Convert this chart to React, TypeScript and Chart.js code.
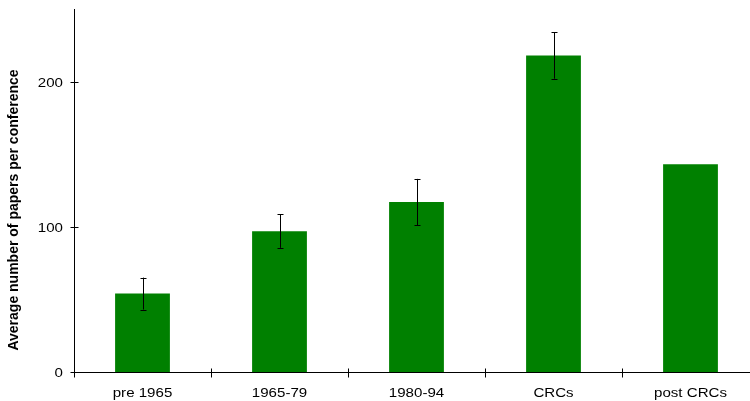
import React, { useEffect, useRef } from "react";
import { Chart, registerables } from "chart.js";

Chart.register(...registerables);

const categories = ["pre 1965", "1965-79", "1980-94", "CRCs", "post CRCs"];
const values = [54, 97, 117, 218, 143];
const errors: (number | null)[] = [11, 11.5, 16, 16, null];
const yTicks = [0, 100, 200];
const yTitle = "Average number of papers per conference";

const FONT = "'Liberation Sans', Arial, sans-serif";
const STRETCH = 1.16;

const axisPlugin = {
  id: "customAxis",
  afterDatasetsDraw(chart: any) {
    const ctx = chart.ctx;
    const x = chart.scales.x;
    const y = chart.scales.y;
    const meta = chart.getDatasetMeta(0);
    ctx.save();
    // error bars
    ctx.strokeStyle = "#000";
    ctx.lineWidth = 1;
    meta.data.forEach((bar: any, i: number) => {
      const e = errors[i];
      if (e == null) return;
      const cx = Math.round(bar.x) + 0.5;
      const top = y.getPixelForValue(values[i] + e);
      const bot = y.getPixelForValue(values[i] - e);
      ctx.beginPath();
      ctx.moveTo(cx, top);
      ctx.lineTo(cx, bot);
      ctx.moveTo(cx - 3, Math.round(top) + 0.5);
      ctx.lineTo(cx + 3, Math.round(top) + 0.5);
      ctx.moveTo(cx - 3, Math.round(bot) + 0.5);
      ctx.lineTo(cx + 3, Math.round(bot) + 0.5);
      ctx.stroke();
    });
    // y tick marks + labels
    const ax = Math.round(x.left) + 0.5;
    ctx.fillStyle = "#000";
    ctx.font = `13px ${FONT}`;
    ctx.textBaseline = "alphabetic";
    yTicks.forEach((v) => {
      const py = Math.round(y.getPixelForValue(v)) + 0.5;
      ctx.beginPath();
      ctx.moveTo(ax - 4, py);
      ctx.lineTo(v === 0 ? ax : ax + 4, py);
      ctx.stroke();
      ctx.save();
      ctx.translate(x.left - 11, py + 4.7);
      ctx.scale(STRETCH, 1);
      ctx.textAlign = "right";
      ctx.fillText(String(v), 0, 0);
      ctx.restore();
    });
    // x tick marks at category boundaries + labels
    const ay = Math.round(y.bottom) + 0.5;
    const step = (x.right - x.left) / categories.length;
    for (let i = 0; i <= categories.length; i++) {
      const px = Math.round(x.left + i * step) + 0.5;
      ctx.beginPath();
      ctx.moveTo(px, ay - 4);
      ctx.lineTo(px, ay + 5);
      ctx.stroke();
    }
    categories.forEach((c, i) => {
      ctx.save();
      ctx.translate(x.getPixelForValue(i), y.bottom + 25);
      ctx.scale(STRETCH, 1);
      ctx.textAlign = "center";
      ctx.fillText(c, 0, 0);
      ctx.restore();
    });
    // y title
    ctx.font = `bold 14px ${FONT}`;
    ctx.textAlign = "center";
    ctx.textBaseline = "middle";
    ctx.translate(14, 210);
    ctx.rotate(-Math.PI / 2);
    ctx.fillText(yTitle, 0, 0);
    ctx.restore();
  },
};

export default function App() {
  const ref = useRef<HTMLCanvasElement>(null);
  useEffect(() => {
    if (!ref.current) return;
    const chart = new Chart(ref.current, {
      type: "bar",
      data: {
        labels: categories,
        datasets: [
          {
            data: values,
            backgroundColor: "#008000",
            borderWidth: 0,
            barPercentage: 0.4,
            categoryPercentage: 1,
          },
        ],
      },
      options: {
        responsive: false,
        animation: false,
        devicePixelRatio: 1,
        layout: { padding: { top: 9, right: 6, left: 0, bottom: 0 } },
        plugins: { legend: { display: false }, tooltip: { enabled: false } },
        scales: {
          x: {
            grid: { display: false, drawTicks: false },
            border: { display: true, color: "#000", width: 1 },
            ticks: { display: false },
            afterFit: (s: any) => {
              s.height = 29;
            },
          },
          y: {
            min: 0,
            max: 250,
            grid: { display: false, drawTicks: false },
            border: { display: true, color: "#000", width: 1 },
            ticks: { display: false },
            afterBuildTicks: (s: any) => {
              s.ticks = yTicks.map((v) => ({ value: v }));
            },
            afterFit: (s: any) => {
              s.width = 74;
            },
          },
        },
      },
      plugins: [axisPlugin],
    });
    return () => chart.destroy();
  }, []);
  return (
    <div style={{ position: "fixed", left: 0, top: 0, width: 750, height: 401, overflow: "hidden", background: "#fff" }}>
      <canvas ref={ref} width={765} height={401} style={{ display: "block", width: 765, height: 401 }} />
    </div>
  );
}
